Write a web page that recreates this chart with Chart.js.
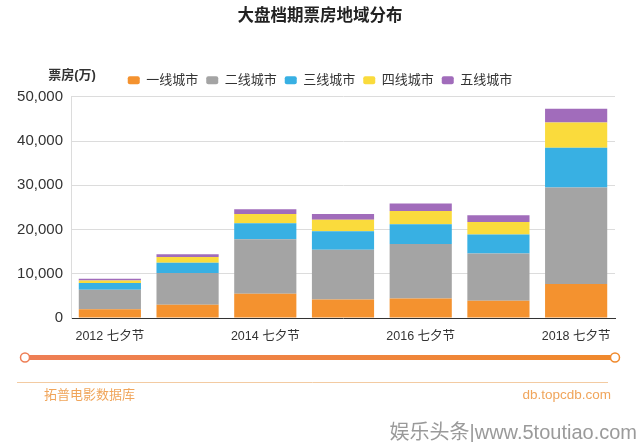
<!DOCTYPE html>
<html>
<head>
<meta charset="utf-8">
<script src="https://cdn.jsdelivr.net/npm/chart.js@4/dist/chart.umd.min.js"></script>
<style>
  html, body { margin: 0; padding: 0; background: #ffffff; }
  #wrap { position: relative; width: 640px; height: 442px; }
</style>
</head>
<body>
<div id="wrap"><canvas id="c" width="640" height="442"></canvas></div>
<script>
const categories = ["2012 七夕节", "2013 七夕节", "2014 七夕节", "2015 七夕节", "2016 七夕节", "2017 七夕节", "2018 七夕节"];
const xTickLabels = ["2012 七夕节", "", "2014 七夕节", "", "2016 七夕节", "", "2018 七夕节"];
const seriesNames = ["一线城市", "二线城市", "三线城市", "四线城市", "五线城市"];
const tier1 = [2000, 3000, 5500, 4200, 4400, 3900, 7700];
const tier2 = [4400, 7200, 12300, 11200, 12300, 10700, 21800];
const tier3 = [1500, 2300, 3600, 4200, 4500, 4300, 9000];
const tier4 = [600, 1300, 2100, 2600, 3000, 2800, 5700];
const tier5 = [400, 600, 1100, 1300, 1700, 1500, 3100];
const yMax = 50000;
const yStep = 10000;
const titleText = "大盘档期票房地域分布";
const yAxisTitle = "票房(万)";
const footerLeft = "拓普电影数据库";
const footerRight = "db.topcdb.com";
const watermark = "娱乐头条|www.5toutiao.com";

const colors = ["#F4922F", "#A4A4A4", "#38B0E3", "#FADB3C", "#A16CBB"];
const FONT = '"Liberation Sans", "Noto Sans CJK SC", sans-serif';

const decor = {
  id: 'decor',
  afterDraw(chart) {
    const ctx = chart.ctx;
    ctx.save();
    // y axis title
    ctx.fillStyle = '#333';
    ctx.font = 'bold 13px ' + FONT;
    ctx.textAlign = 'center';
    ctx.textBaseline = 'middle';
    ctx.fillText(yAxisTitle, 72, 75);

    // gradient timeline bar
    const g = ctx.createLinearGradient(25, 0, 615, 0);
    g.addColorStop(0, '#EE7E55');
    g.addColorStop(1, '#F0892C');
    ctx.strokeStyle = g;
    ctx.lineWidth = 5;
    ctx.lineCap = 'butt';
    ctx.beginPath();
    ctx.moveTo(25, 357.5);
    ctx.lineTo(615, 357.5);
    ctx.stroke();
    [[25, '#EE7E55'], [615, '#F0892C']].forEach(([x, c]) => {
      ctx.beginPath();
      ctx.arc(x, 357.5, 4.5, 0, Math.PI * 2);
      ctx.fillStyle = '#fff';
      ctx.fill();
      ctx.lineWidth = 1.5;
      ctx.strokeStyle = c;
      ctx.stroke();
    });

    // thin divider
    ctx.strokeStyle = '#F3CBA2';
    ctx.lineWidth = 1;
    ctx.beginPath();
    ctx.moveTo(17, 382.5);
    ctx.lineTo(608, 382.5);
    ctx.stroke();

    // footer texts
    ctx.fillStyle = '#F0A55B';
    ctx.font = '13px ' + FONT;
    ctx.textAlign = 'left';
    ctx.fillText(footerLeft, 44, 395.5);
    ctx.textAlign = 'right';
    ctx.font = '13.5px ' + FONT;
    ctx.fillText(footerRight, 611, 395.5);

    // watermark
    ctx.fillStyle = '#9a9a9a';
    ctx.font = '20px ' + FONT;
    ctx.textAlign = 'right';
    ctx.fillText(watermark, 637, 433);
    ctx.restore();
  }
};

const values = [tier1, tier2, tier3, tier4, tier5];
new Chart(document.getElementById('c'), {
  type: 'bar',
  data: {
    labels: categories,
    datasets: seriesNames.map((n, i) => ({
      label: n,
      data: values[i],
      backgroundColor: colors[i],
      borderWidth: 0,
      barPercentage: 0.8,
      categoryPercentage: 1.0
    }))
  },
  options: {
    responsive: false,
    animation: false,
    devicePixelRatio: 1,
    layout: { padding: { left: 0, right: 0, top: 0, bottom: 0 } },
    plugins: {
      tooltip: { enabled: false },
      title: {
        display: true,
        text: titleText,
        color: '#222',
        font: { family: FONT, size: 16.5, weight: 'bold' },
        padding: { top: 7, bottom: 39 }
      },
      legend: {
        display: true,
        position: 'top',
        labels: {
          color: '#333',
          font: { family: FONT, size: 13 },
          boxWidth: 12,
          boxHeight: 8,
          useBorderRadius: true,
          borderRadius: 2,
          padding: 8
        }
      }
    },
    scales: {
      x: {
        stacked: true,
        grid: { display: false, drawTicks: false },
        border: { display: true, color: '#333', width: 1 },
        ticks: {
          color: '#333',
          font: { family: FONT, size: 12.5 },
          padding: 11,
          autoSkip: false,
          maxRotation: 0,
          callback: (v, i) => xTickLabels[i]
        },
        afterFit: (s) => { s.height = 124; }
      },
      y: {
        stacked: true,
        min: 0,
        max: yMax,
        ticks: {
          stepSize: yStep,
          color: '#333',
          font: { family: FONT, size: 15 },
          padding: 8
        },
        grid: {
          drawTicks: false,
          color: (c) => (c.tick && c.tick.value === 0) ? 'rgba(0,0,0,0)' : '#DCDCDC'
        },
        border: { display: true, color: '#DCDCDC', width: 1 },
        afterFit: (s) => { s.width = 71; }
      },
      yRight: {
        position: 'right',
        display: true,
        min: 0,
        max: yMax,
        grid: { display: false, drawTicks: false },
        border: { display: false },
        ticks: { display: false },
        afterFit: (s) => { s.width = 25; }
      }
    }
  },
  plugins: [decor]
});
</script>
</body>
</html>
